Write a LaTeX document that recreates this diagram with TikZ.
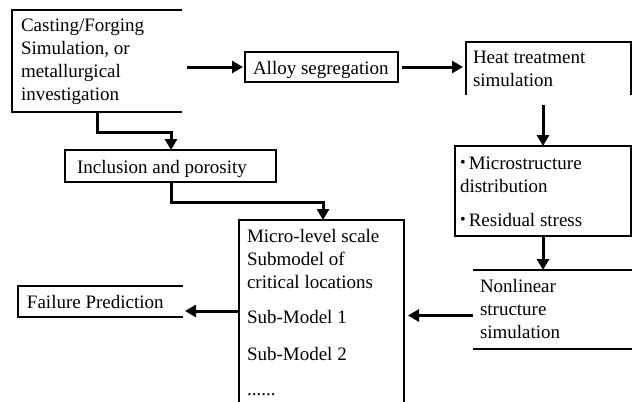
\documentclass[tikz,border=0pt]{standalone}
\usepackage{fontspec}
\setmainfont{Liberation Serif}
\usetikzlibrary{arrows.meta}
\newcommand{\mybul}{\raisebox{0.08em}{\fontsize{16}{16}\selectfont •}\,}
\begin{document}
\begin{tikzpicture}[x=1pt,y=-1pt,
  box/.style={inner sep=0pt, outer sep=0pt},
  edge/.style={line width=1.1pt},
  arr/.style={line width=3pt,-{Triangle[length=11pt,width=12pt]}},
  txt/.style={inner sep=0pt, outer sep=0pt, anchor=base west, align=left, font=\fontsize{19}{23}\selectfont}]
\useasboundingbox (0,0) rectangle (633,402);
% boxes
\node[box, minimum width=170, minimum height=102] (b1) at (97,61) {};
\node[box, minimum width=153, minimum height=30] (alloy) at (321.5,67) {};
\node[box, minimum width=165, minimum height=53] (heat) at (548.5,68.5) {};
\node[box, minimum width=176, minimum height=90] (micro) at (543,191) {};
\node[box, minimum width=159, minimum height=79] (nonlin) at (552.5,309.5) {};
\node[box, minimum width=165, minimum height=182] (ml) at (321.5,311) {};
\node[box, minimum width=165, minimum height=31] (fail) at (100.5,301.5) {};
\node[box, minimum width=211, minimum height=32] (incl) at (170.5,166) {};
% borders
\draw[edge] (b1.north east) -- (b1.north west) -- (b1.south west) -- (b1.south east);
\draw[edge] (alloy.north west) rectangle (alloy.south east);
\draw[edge] (heat.south west) -- (heat.north west) -- (heat.north east) -- (heat.south east);
\draw[edge] (micro.north west) rectangle (micro.south east);
\draw[edge] (nonlin.north west) -- (nonlin.north east);
\draw[edge] (nonlin.south west) -- (nonlin.south east);
\draw[edge] (ml.south west) -- (ml.north west) -- (ml.north east) -- (ml.south east);
\draw[edge] (fail.north east) -- (fail.north west) -- (fail.south west) -- (fail.south east);
\draw[edge] (incl.north west) rectangle (incl.south east);
% texts (anchored at the baseline of the last line)
\node[txt] (t1) at (21,100) {Casting/Forging\\Simulation, or\\metallurgical\\investigation};
\node[txt] (t2) at (253,74) {Alloy segregation};
\node[txt] (t3) at (473,86) {Heat treatment\\simulation};
\node[txt] (t4) at (460,226) {\mybul Microstructure\\distribution\\[11pt]\mybul Residual stress};
\node[txt] (t5) at (480,338) {Nonlinear\\structure\\simulation};
\node[txt] (t6) at (247,395) {Micro-level scale\\Submodel of\\critical locations\\[12pt]Sub-Model 1\\[14pt]Sub-Model 2\\[12pt]......};
\node[txt] (t7) at (27,308) {Failure Prediction};
\node[txt] (t8) at (77,173) {Inclusion and porosity};
% connectors
\draw[arr] ([xshift=5pt]b1.east |- alloy.west) -- ([xshift=-2pt]alloy.west);
\draw[arr] ([xshift=4pt]alloy.east) -- ([xshift=-3pt]heat.west |- alloy.east);
\draw[arr] ([yshift=-10pt]heat.south -| micro.north) -- (micro.north);
\draw[arr] (micro.south) -- (micro.south |- nonlin.north);
\draw[arr] ([yshift=-6pt]nonlin.west) -- ([xshift=4pt,yshift=-6pt]ml.east |- nonlin.west);
\draw[arr] (ml.west) -- ([xshift=2pt]fail.east |- ml.west);
\draw[arr] ([xshift=-85pt]b1.south east) |- ([yshift=18pt,xshift=106pt]incl.north west) -- ([xshift=106pt]incl.north west);
\draw[arr] ([xshift=106pt]incl.south west) |- ([yshift=18pt,xshift=1.5pt]ml.north) -- ([xshift=1.5pt]ml.north);
\end{tikzpicture}
\end{document}
